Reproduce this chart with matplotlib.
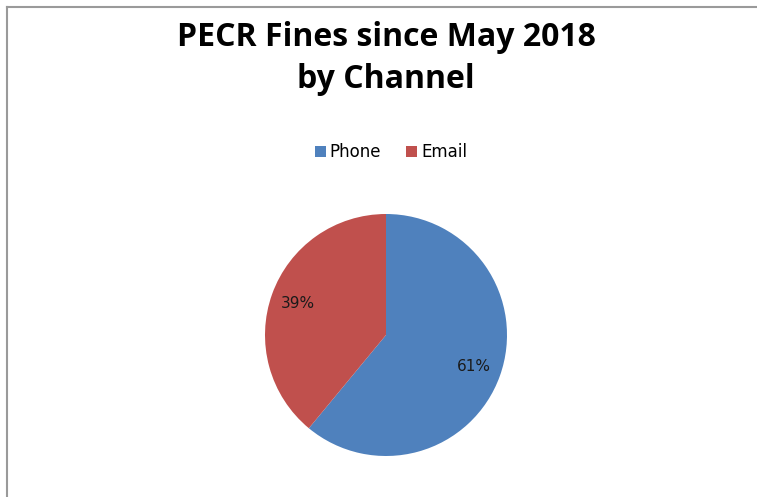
import matplotlib.pyplot as plt
from matplotlib.lines import Line2D

# chart data
channels = ["Phone", "Email"]
shares = [61, 39]
colors = ["#4F81BD", "#C0504D"]

fig = plt.figure(figsize=(7.57, 4.97), dpi=100)
W, H = 757, 497

# frame lines (left and top edge of the chart area)
fig.add_artist(Line2D([7 / W, 7 / W], [0, 1 - 7 / H], color="#9a9a9a", lw=1.5))
fig.add_artist(Line2D([7 / W, 1], [1 - 7 / H, 1 - 7 / H], color="#9a9a9a", lw=1.5))

fig.text(386 / W, 1 - 38 / H, "PECR Fines since May 2018", ha="center", va="center",
         fontsize=23, fontweight="bold", family="Open Sans")
fig.text(386 / W, 1 - 80 / H, "by Channel", ha="center", va="center",
         fontsize=23, fontweight="bold", family="Open Sans")

cx, cy, r = 386, 335, 121
ax = fig.add_axes([(cx - r) / W, (H - cy - r) / H, 2 * r / W, 2 * r / H])
wedges, texts, autotexts = ax.pie(
    shares, colors=colors, startangle=90, counterclock=False,
    autopct="%d%%", pctdistance=0.77,
    textprops={"fontsize": 11, "color": "#1a1a1a", "family": "DejaVu Sans"},
)
ax.set_xlim(-1, 1)
ax.set_ylim(-1, 1)
ax.set_aspect("equal")

fig.legend(wedges, channels, loc="center", bbox_to_anchor=(391 / W, 1 - 152 / H),
           ncol=2, frameon=False, prop={"family": "DejaVu Sans", "size": 12},
           handlelength=0.66, handleheight=0.66, handletextpad=0.25, columnspacing=1.5)

fig.savefig("out.png", dpi=100)
